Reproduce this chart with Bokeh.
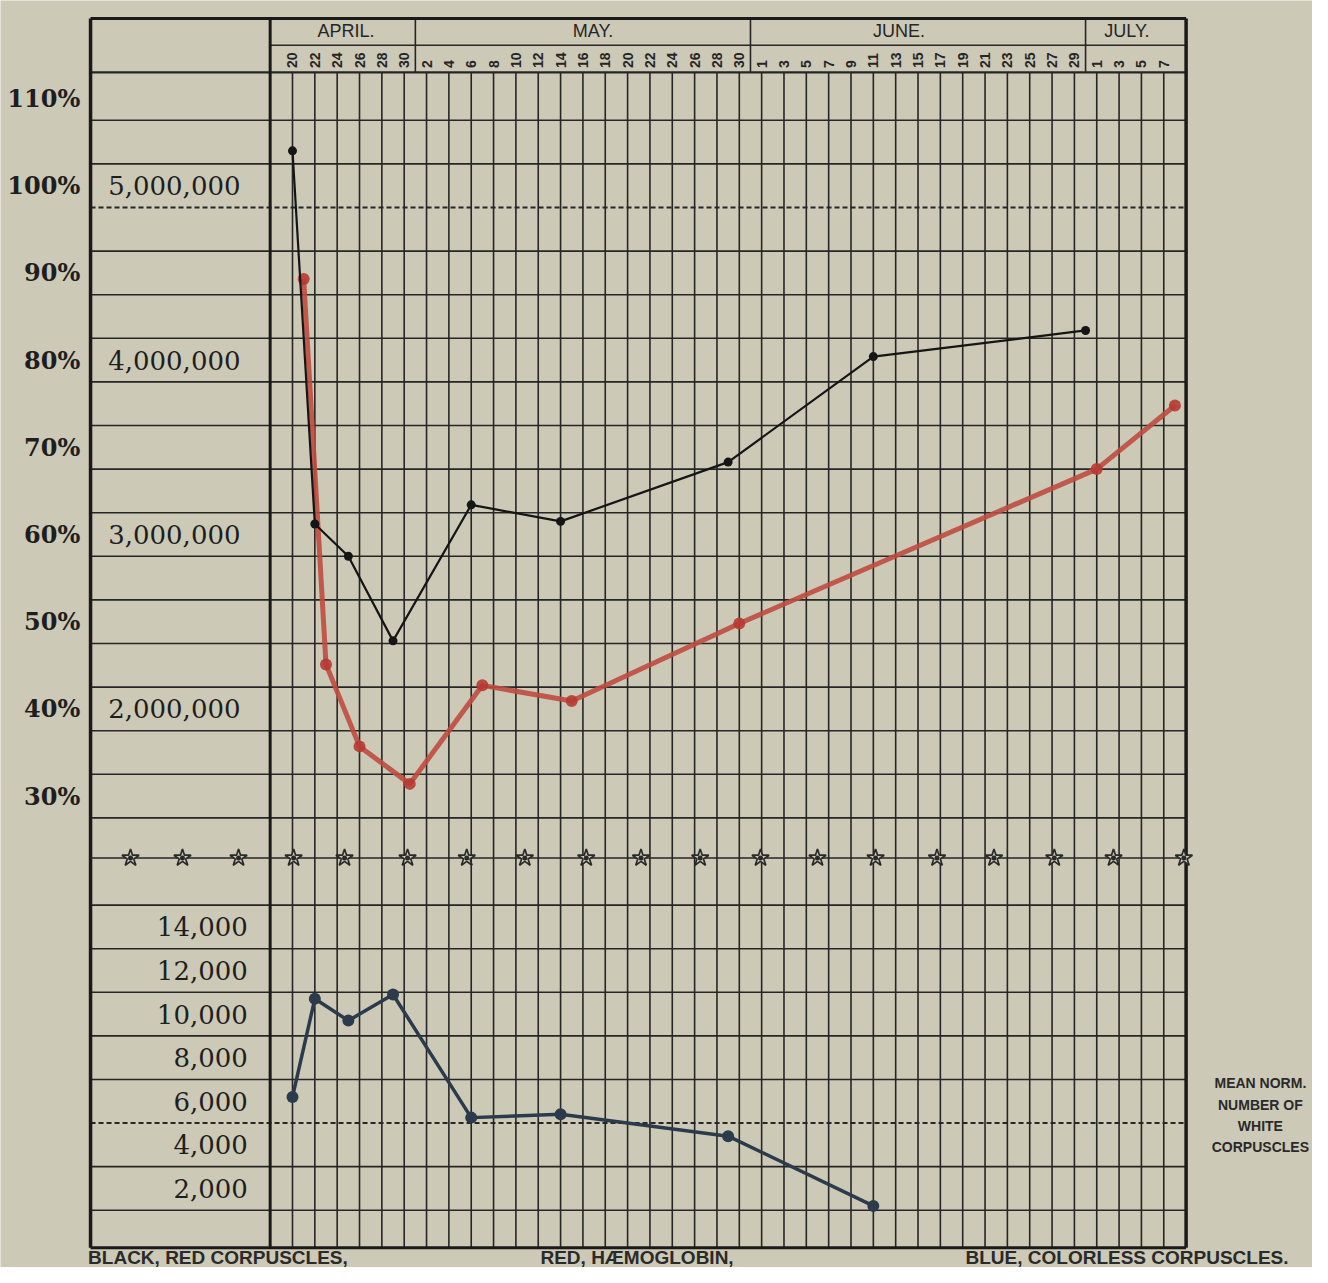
import numpy as np
from bokeh.plotting import figure
from bokeh.models import Range1d
from bokeh.core.properties import value
from bokeh.embed import file_html
from bokeh.resources import INLINE

# ---------------- data ----------------
months = ["APRIL.", "MAY.", "JUNE.", "JULY."]
month_centers = [4.8, 26.9, 54.3, 74.7]          # day offsets (April 20 = 0)
month_bounds = [11, 41, 71]
date_labels = ["20", "22", "24", "26", "28", "30",
               "2", "4", "6", "8", "10", "12", "14", "16", "18", "20", "22", "24", "26", "28", "30",
               "1", "3", "5", "7", "9", "11", "13", "15", "17", "19", "21", "23", "25", "27", "29",
               "1", "3", "5", "7"]

# black: red corpuscles (count per cmm)
rbc_days = [0, 2, 5, 9, 16, 24, 39, 52, 71]
rbc_count = [5325000, 3185000, 3000000, 2515000, 3295000, 3200000, 3540000, 4145000, 4295000]
# red: haemoglobin (%)
hb_days = [1, 3, 6, 10.5, 17, 25, 40, 72, 79]
hb_pct = [91.8, 47.6, 38.2, 33.9, 45.2, 43.4, 52.3, 70.0, 77.3]
# blue: colorless corpuscles
wbc_days = [0, 2, 5, 9, 16, 24, 39, 52]
wbc_count = [7200, 11700, 10700, 11900, 6250, 6400, 5400, 2200]

pct_ticks = [110, 100, 90, 80, 70, 60, 50, 40, 30]
pct_labels = ["110%", "100%", "90%", "80%", "70%", "60%", "50%", "40%", "30%"]
rbc_ticks = [5000000, 4000000, 3000000, 2000000]
rbc_labels = ["5,000,000", "4,000,000", "3,000,000", "2,000,000"]
wbc_ticks = [14000, 12000, 10000, 8000, 6000, 4000, 2000]
wbc_labels = ["14,000", "12,000", "10,000", "8,000", "6,000", "4,000", "2,000"]
star_days = [-14.5, -9.85, -4.83, 0.1, 4.66, 10.3, 15.6, 20.8, 26.3, 31.2, 36.5,
             41.9, 47.0, 52.2, 57.7, 62.8, 68.2, 73.5, 79.8]

legend_texts = ["BLACK, RED CORPUSCLES,", "RED, HÆMOGLOBIN,", "BLUE, COLORLESS CORPUSCLES."]
note_lines = ["MEAN NORM.", "NUMBER OF", "WHITE", "CORPUSCLES"]

# ---------------- layout ----------------
PAPER = "#ccc9b6"
INK = "#262626"
W, H = 1312, 1267
X0, X1 = -26.141, 91.316
Y0, Y1 = -21.563, 123.739
LEFT, SEP, RIGHT = -18.08, -2.0, 80.0
TOP, MONTH_LINE, DATE_LINE, BOTTOM = 121.67, 118.6, 115.5, -19.3
STAR_Y = 25.4

p = figure(width=W, height=H, x_range=Range1d(X0, X1), y_range=Range1d(Y0, Y1),
           output_backend="svg", toolbar_location=None,
           x_axis_location=None, y_axis_location=None, min_border=0)
p.grid.visible = False
p.outline_line_color = None
p.background_fill_color = PAPER
p.border_fill_color = PAPER

# scales sharing the same vertical grid
p.extra_y_ranges = {
    "rbc": Range1d(Y0 * 50000, Y1 * 50000),
    "wbc": Range1d(8000 + 400 * Y0, 8000 + 400 * Y1),
}

# ---------------- grid ----------------
hvals = [v for v in range(110, -20, -5) if v not in (25, 100, -5)]
p.segment(x0=[LEFT] * len(hvals), y0=hvals, x1=[RIGHT] * len(hvals), y1=hvals,
          line_color=INK, line_width=1.6)
p.segment(x0=[LEFT, LEFT], y0=[100, -5], x1=[RIGHT, RIGHT], y1=[100, -5],
          line_color=INK, line_width=2, line_dash="5 3")
vdays = [2 * i for i in range(len(date_labels))]
p.segment(x0=vdays, y0=[DATE_LINE] * len(vdays), x1=vdays, y1=[BOTTOM] * len(vdays),
          line_color=INK, line_width=1.6)

# header lines
p.segment(x0=[SEP, LEFT], y0=[MONTH_LINE, DATE_LINE], x1=[RIGHT, RIGHT], y1=[MONTH_LINE, DATE_LINE],
          line_color=INK, line_width=[1.6, 2.2])
p.segment(x0=month_bounds, y0=[DATE_LINE] * 3, x1=month_bounds, y1=[TOP] * 3,
          line_color=INK, line_width=1.6)

# frame
p.segment(x0=[LEFT, LEFT, LEFT, RIGHT, SEP], y0=[TOP, BOTTOM, TOP, TOP, TOP],
          x1=[RIGHT, RIGHT, LEFT, RIGHT, SEP], y1=[TOP, BOTTOM, BOTTOM, BOTTOM, BOTTOM],
          line_color="#1a1a1a", line_width=[3, 3, 3.5, 3.5, 3])

# star row
p.segment(x0=[LEFT], y0=[STAR_Y], x1=[RIGHT], y1=[STAR_Y], line_color=INK, line_width=1.6)
p.scatter(x=star_days, y=[STAR_Y] * len(star_days), marker="star", size=18,
          fill_color=PAPER, line_color="#2a2a2a", line_width=1.7)
p.scatter(x=star_days, y=[STAR_Y] * len(star_days), marker="circle", size=5,
          fill_color="#2a2a2a", line_color=None)

# ---------------- header text ----------------
p.text(x=month_centers, y=[120.2] * 4, text=months, text_font=value("Liberation Sans"),
       text_font_size="18px", text_align="center", text_baseline="middle", text_color=INK)
p.text(x=vdays, y=[116.0] * len(vdays), text=date_labels, angle=np.pi / 2,
       text_font=value("Liberation Sans"), text_font_size="14px", text_font_style="bold",
       text_align="left", text_baseline="middle", text_color=INK)

# ---------------- left labels ----------------
p.text(x=[-19.0] * len(pct_ticks), y=[v + 2.5 for v in pct_ticks], text=pct_labels,
       text_font=value("DejaVu Serif"), text_font_size="24px", text_font_style="bold",
       text_align="right", text_baseline="middle", text_color="#1e1e1e")
p.text(x=[-16.5] * len(rbc_ticks), y=[v + 125000 for v in rbc_ticks], text=rbc_labels,
       y_range_name="rbc", text_font=value("DejaVu Serif"), text_font_size="26px",
       text_align="left", text_baseline="middle", text_color="#1e1e1e")
p.text(x=[-4.0] * len(wbc_ticks), y=[v + 1000 for v in wbc_ticks], text=wbc_labels,
       y_range_name="wbc", text_font=value("DejaVu Serif"), text_font_size="26px",
       text_align="right", text_baseline="middle", text_color="#1e1e1e")

# ---------------- data series ----------------
p.line(hb_days, hb_pct, line_color="#bf4b40", line_width=5, line_alpha=0.9)
p.scatter(hb_days, hb_pct, marker="circle", size=12, fill_color="#b63a33",
          line_color=None, fill_alpha=0.9)

p.line(rbc_days, rbc_count, y_range_name="rbc", line_color="#151515", line_width=2.2)
p.scatter(rbc_days, rbc_count, y_range_name="rbc", marker="circle", size=9,
          fill_color="#151515", line_color=None)

p.line(wbc_days, wbc_count, y_range_name="wbc", line_color="#2b3b4c", line_width=3.5)
p.scatter(wbc_days, wbc_count, y_range_name="wbc", marker="circle", size=12,
          fill_color="#2b3b4c", line_color=None)

# ---------------- notes ----------------
p.text(x=[-18.3, 22.2, 60.25], y=[-20.45] * 3, text=legend_texts,
       text_font=value("Liberation Sans"), text_font_size="19px", text_font_style="bold",
       text_align="left", text_baseline="middle", text_color="#2a2a2a")
p.text(x=[86.65] * 4, y=[-0.46, -2.98, -5.39, -7.8], text=note_lines,
       text_font=value("Liberation Sans"), text_font_size="14px", text_font_style="bold",
       text_align="center", text_baseline="middle", text_color="#2a2a2a")

open("out.html", "w").write(file_html(p, INLINE))
